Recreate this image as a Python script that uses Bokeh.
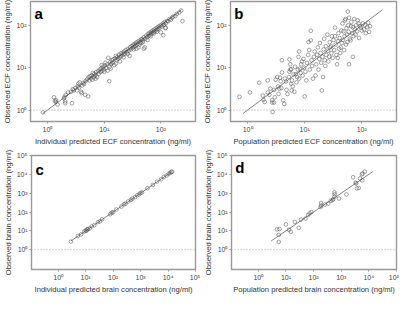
from bokeh.plotting import figure
from bokeh.layouts import column, row
from bokeh.models import Span, Label, FixedTicker, CustomJSTickFormatter, Range1d
from bokeh.embed import file_html
from bokeh.resources import INLINE

FONT = "Liberation Sans"

# ---------------- data (ng/ml) ----------------
# Panel a: individual predicted vs observed ECF concentration
a_pred = [0.83, 1.35, 1.4, 1.42, 1.3, 1.5, 1.95, 2.0, 2.05, 2.05, 2.1, 2.3, 2.6, 2.7, 2.8, 2.9,
          3.1, 3.3, 3.4, 3.5, 3.6, 3.7, 3.9, 4.0, 4.1, 4.3, 4.4, 4.6, 4.7, 5.0, 5.2, 5.3, 5.5,
          5.6, 5.8, 6.0, 6.2, 6.3, 6.5, 6.7, 6.9, 7.0, 7.2, 7.5, 7.8, 8.0, 8.3, 8.6, 8.9, 9.0,
          9.2, 9.5, 9.8, 10.0, 10.2, 10.5, 10.8, 11.2, 11.5, 11.8, 12.3, 12.5, 12.8, 13.0, 13.2,
          13.6, 14.0, 14.4, 15.0, 15.5, 16.0, 16.0, 16.5, 17.0, 17.6, 18.2, 18.8, 19.0, 19.5,
          20.0, 21.0, 21.8, 22.0, 22.5, 23.0, 24.0, 25.0, 26.0, 26.0, 27.0, 28.0, 28.5, 29.5,
          30.5, 31.5, 32.5, 33.0, 33.5, 34.5, 35.5, 36.5, 37.0, 38.0, 39.0, 40.0, 41.5, 42.0,
          43.0, 44.5, 45.0, 46.5, 48.0, 48.0, 50.0, 50.0, 52.0, 53.0, 55.0, 57.0, 58.0, 59.0,
          61.0, 63.0, 65.0, 66.0, 67.0, 69.0, 71.0, 73.0, 75.0, 76.0, 78.0, 81.0, 84.0, 85.0,
          87.0, 90.0, 93.0, 96.0, 100.0, 100.0, 104.0, 108.0, 110.0, 112.0, 116.0, 120.0,
          121.0, 122.0, 128.0, 135.0, 142.0, 150.0, 158.0, 165.0, 180.0, 190.0, 210.0, 228.0,
          240.0]
a_obs = [0.88, 1.65, 1.55, 1.7, 2.0, 1.35, 1.9, 2.05, 1.6, 1.45, 2.3, 2.6, 2.7, 1.45, 3.1, 2.9,
         3.3, 2.9, 3.6, 4.2, 3.4, 4.5, 2.7, 2.5, 3.8, 4.4, 4.1, 2.3, 4.8, 5.3, 2.1, 5.9, 5.0,
         6.3, 5.6, 6.6, 5.2, 7.5, 6.0, 7.1, 6.5, 5.5, 7.8, 6.0, 8.3, 7.2, 9.0, 7.9, 9.6, 11.5,
         8.4, 10.5, 9.1, 8.0, 11.2, 13.0, 9.8, 12.0, 8.5, 17.0, 4.8, 10.5, 13.5, 9.5, 12.2,
         15.0, 13.0, 15.8, 11.5, 16.5, 19.0, 12.5, 15.0, 17.8, 16.2, 20.0, 17.5, 14.0, 21.5,
         18.8, 22.0, 20.5, 17.5, 24.0, 21.5, 26.0, 23.0, 27.5, 21.0, 25.0, 19.0, 30.0, 27.0,
         32.0, 29.0, 34.5, 27.0, 31.0, 36.0, 33.0, 38.5, 28.0, 35.0, 41.0, 30.0, 43.0, 35.0,
         39.0, 46.0, 38.0, 47.0, 44.0, 40.0, 52.0, 28.0, 30.0, 48.0, 57.0, 52.0, 45.0, 62.0,
         56.0, 66.0, 60.0, 55.0, 70.0, 64.0, 74.0, 68.0, 64.0, 79.0, 72.0, 84.0, 77.0, 70.0,
         89.0, 82.0, 95.0, 88.0, 68.0, 101.0, 94.0, 110.0, 58.0, 102.0, 118.0, 85.0,
         88.0, 112.0, 126.0, 125.0, 140.0, 135.0, 152.0, 160.0, 165.0, 185.0, 200.0, 222.0,
         125.0]

# Panel b: population predicted vs observed ECF concentration
b_pred = [0.72, 1.1, 1.6, 1.85, 1.9, 2.0, 2.25, 2.25, 2.4, 2.5, 2.75, 2.7, 2.7, 2.9, 2.9, 3.0,
          3.1, 3.3, 3.4, 3.5, 3.6, 3.7, 3.8, 3.9, 4.0, 4.0, 4.2, 4.4, 4.5, 4.7, 4.8, 5.0, 5.3,
          5.4, 5.4, 5.6, 5.6, 5.8, 5.8, 5.9, 6.0, 6.2, 6.4, 6.6, 6.8, 7.0, 7.2, 7.4, 7.6, 7.8,
          8.0, 8.0, 8.2, 8.5, 8.7, 9.0, 9.2, 9.5, 9.8, 10.0, 10.3, 10.7, 11.0, 11.5, 11.7,
          12.0, 12.3, 12.8, 12.8, 13.2, 13.5, 14.0, 14.5, 15.0, 15.5, 16.0, 16.5, 17.0, 17.5,
          18.0, 18.5, 19.0, 19.5, 20.0, 20.5, 21.0, 21.5, 22.0, 22.5, 23.0, 23.5, 24.0, 25.0,
          25.5, 26.0, 27.0, 27.5, 28.0, 29.0, 29.5, 30.0, 31.0, 32.0, 33.0, 34.0, 34.0, 35.0,
          36.0, 37.0, 38.0, 38.5, 39.0, 40.0, 41.0, 42.0, 43.0, 44.0, 45.0, 46.0, 47.0, 48.0,
          49.0, 50.0, 51.0, 52.0, 53.0, 54.0, 55.0, 56.0, 57.0, 58.0, 59.0, 60.0, 60.0, 62.0,
          64.0, 65.0, 66.0, 68.0, 70.0, 70.0, 72.0, 74.0, 76.0, 78.0, 80.0, 83.0, 85.0, 88.0,
          90.0, 93.0, 96.0, 100.0, 105.0, 110.0, 115.0, 118.0, 125.0, 130.0, 135.0, 140.0]
b_obs = [2.05, 2.6, 4.4, 2.2, 1.75, 1.55, 5.0, 2.6, 2.3, 3.2, 0.9, 1.7, 1.5, 1.5, 3.0, 2.0,
         5.2, 6.0, 3.6, 2.4, 3.2, 5.8, 4.8, 3.3, 7.7, 15.0, 1.7, 1.4, 5.5, 4.7, 3.0, 2.4, 6.0,
         8.0, 15.6, 9.0, 12.0, 4.2, 9.2, 2.9, 5.0, 3.6, 7.0, 2.7, 10.5, 7.0, 4.5, 6.0, 9.0, 18.0,
         5.5, 24.0, 9.5, 7.5, 12.0, 14.0, 6.5, 16.0, 10.0, 2.1, 8.0, 5.0, 13.0, 20.0, 40.0,
         26.0, 9.0, 44.0, 74.0, 15.0, 11.0, 5.5, 18.0, 24.0, 6.5, 12.0, 20.0, 30.0, 9.0,
         16.0, 38.0, 22.0, 13.0, 2.9, 18.0, 6.0, 27.0, 48.0, 15.0, 11.0, 32.0, 20.0, 60.0,
         25.0, 14.0, 18.0, 40.0, 30.0, 32.0, 22.0, 55.0, 17.0, 45.0, 26.0, 88.0, 55.0, 35.0,
         20.0, 12.0, 17.0, 42.0, 65.0, 28.0, 50.0, 22.0, 30.0, 75.0, 38.0, 110.0, 45.0, 72.0,
         26.0, 55.0, 130.0, 140.0, 35.0, 85.0, 60.0, 40.0, 210.0, 100.0, 70.0, 150.0, 12.0, 48.0,
         44.0, 95.0, 120.0, 65.0, 18.0, 90.0, 55.0, 140.0, 80.0, 60.0, 100.0, 72.0, 130.0, 110.0,
         50.0, 95.0, 88.0, 75.0, 110.0, 80.0, 100.0, 65.0, 90.0, 115.0, 70.0, 95.0]

# Panel c: individual predicted vs observed brain concentration
c_pred = [2.9, 5.2, 6.8, 8.9, 10.0, 10.7, 11.5, 12.0, 14.1, 16.6, 20.9, 28.2, 33.1, 39.8, 79.4,
          89.1, 100.0, 132.0, 200.0, 251.0, 282.0, 355.0, 447.0, 501.0, 631.0, 759.0, 891.0,
          1000.0, 1122.0, 1778.0, 2818.0, 3981.0, 5623.0, 7079.0, 8913.0, 10471.0, 12023.0,
          13183.0, 14125.0]
c_obs = [2.7, 5.4, 6.5, 9.2, 10.3, 10.2, 11.9, 12.4, 13.6, 17.0, 20.2, 29.0, 32.0, 41.0, 77.0,
         92.0, 98.0, 136.0, 195.0, 258.0, 275.0, 365.0, 437.0, 515.0, 615.0, 780.0, 870.0,
         1030.0, 1095.0, 1830.0, 2740.0, 4090.0, 5480.0, 7270.0, 8700.0, 10750.0, 11700.0,
         13500.0, 13800.0]

# Panel d: population predicted vs observed brain concentration
d_pred = [4.8, 5.8, 5.5, 5.5, 10.0, 13.0, 15.0, 21.0, 29.0, 35.0, 51.0, 63.0, 72.0, 83.0,
          178.0, 186.0, 190.0, 260.0, 340.0, 420.0, 510.0, 570.0, 580.0, 570.0, 480.0, 830.0,
          1550.0, 2700.0, 3300.0, 3500.0, 4300.0, 4800.0, 5600.0, 5900.0, 7100.0, 5800.0,
          3700.0]
d_obs = [12.0, 12.6, 6.1, 2.6, 22.0, 11.5, 9.0, 30.0, 14.5, 40.0, 45.0, 70.0, 85.0, 100.0,
         186.0, 300.0, 220.0, 250.0, 280.0, 400.0, 480.0, 1100.0, 880.0, 650.0, 420.0, 520.0,
         860.0, 7000.0, 3600.0, 3300.0, 1900.0, 6000.0, 10000.0, 11000.0, 14000.0, 4800.0,
         1800.0]

ecf_xticks = [1, 10, 100]
ecf_yticks = [1, 10, 100]
brain_xticks = [1, 10, 100, 1000, 10000, 100000]
brain_yticks = [1, 10, 100, 1000, 10000, 100000]

ecf_range = (10 ** -0.30, 10 ** 2.61)
ecf_yrange = (10 ** -0.27, 10 ** 2.56)
brain_range = (10 ** -0.97, 10 ** 5.0)
brain_yrange = (10 ** -1.05, 10 ** 5.0)

labels = {
    "a": ("Individual predicted ECF concentration (ng/ml)", "Observed ECF concentration (ng/ml)"),
    "b": ("Population predicted ECF concentration (ng/ml)", "Observed ECF concentration (ng/ml)"),
    "c": ("Individual predicted brain concentration (ng/ml)", "Observed brain concentration (ng/ml)"),
    "d": ("Population predicted brain concentration (ng/ml)", "Observed brain concentration (ng/ml)"),
}

fmt_code = """
const sup = {"-1": "\u207b\u00b9", "0": "\u2070", "1": "\u00b9", "2": "\u00b2", "3": "\u00b3",
             "4": "\u2074", "5": "\u2075"};
const e = Math.round(Math.log10(tick));
return "10" + sup[String(e)];
"""


def panel(letter, xs, ys, line_lo, line_hi, xr, yr, xticks, yticks, w, h, bl, br, bt, bb,
          letter_x, letter_y):
    p = figure(width=w, height=h, x_axis_type="log", y_axis_type="log",
               x_range=Range1d(*xr), y_range=Range1d(*yr),
               output_backend="svg", toolbar_location=None,
               min_border_left=bl, min_border_right=br, min_border_top=bt, min_border_bottom=bb,
               background_fill_color="white", border_fill_color="white")
    p.outline_line_color = "#999999"
    p.outline_line_width = 1.4
    p.xgrid.visible = False
    p.ygrid.visible = False
    xl, yl = labels[letter]
    p.xaxis.axis_label = xl
    p.yaxis.axis_label = yl
    p.xaxis.ticker = FixedTicker(ticks=xticks)
    p.yaxis.ticker = FixedTicker(ticks=yticks)
    for ax in (p.xaxis[0], p.yaxis[0]):
        ax.formatter = CustomJSTickFormatter(code=fmt_code)
        ax.axis_line_color = None
        ax.major_tick_line_color = "#999999"
        ax.major_tick_out = 2
        ax.major_tick_in = 0
        ax.minor_tick_line_color = None
        ax.major_label_text_font = FONT
        ax.major_label_text_font_size = "7px"
        ax.major_label_text_color = "#444444"
        ax.major_label_standoff = 2
        ax.axis_label_text_font = FONT
        ax.axis_label_text_font_size = "7.6px"
        ax.axis_label_text_font_style = "normal"
        ax.axis_label_text_color = "#333333"
        ax.axis_label_standoff = 1
    p.yaxis.major_label_orientation = "horizontal"

    p.add_layout(Span(location=1, dimension="width", line_color="#888888",
                      line_dash="1 2", line_width=0.8))
    p.line([line_lo, line_hi], [line_lo, line_hi], line_color="#505050", line_width=0.7)
    p.scatter(xs, ys, marker="circle", size=3.7, fill_color=None,
              line_color="#4a4a4a", line_width=0.5)
    p.add_layout(Label(x=letter_x, y=letter_y, text=letter, text_font=FONT,
                       text_font_size="15px", text_font_style="bold", text_color="black",
                       text_baseline="alphabetic", text_align="left"))
    return p


pa = panel("a", a_pred, a_obs, min(a_pred), max(a_pred) * 0.96, ecf_range, ecf_yrange,
           ecf_xticks, ecf_yticks, 200, 148, 24, 5, 1, 24, 10 ** -0.23, 10 ** 2.28)
pb = panel("b", b_pred, b_obs, min(a_pred), max(a_pred) * 0.96, ecf_range, ecf_yrange,
           ecf_xticks, ecf_yticks, 199, 148, 28, 3, 1, 24, 10 ** -0.235, 10 ** 2.27)
pc = panel("c", c_pred, c_obs, min(c_pred), max(c_pred) * 0.95, brain_range, brain_yrange,
           brain_xticks, brain_yticks, 200, 148, 24, 5, 7, 23, 10 ** -0.82, 10 ** 4.25)
pd = panel("d", d_pred, d_obs, min(c_pred), max(c_pred) * 0.95, brain_range, brain_yrange,
           brain_xticks, brain_yticks, 199, 148, 28, 3, 7, 23, 10 ** -0.83, 10 ** 4.35)

layout = column(row(pa, pb, spacing=0), row(pc, pd, spacing=0), spacing=0)

open("out.html", "w").write(file_html(layout, INLINE))
